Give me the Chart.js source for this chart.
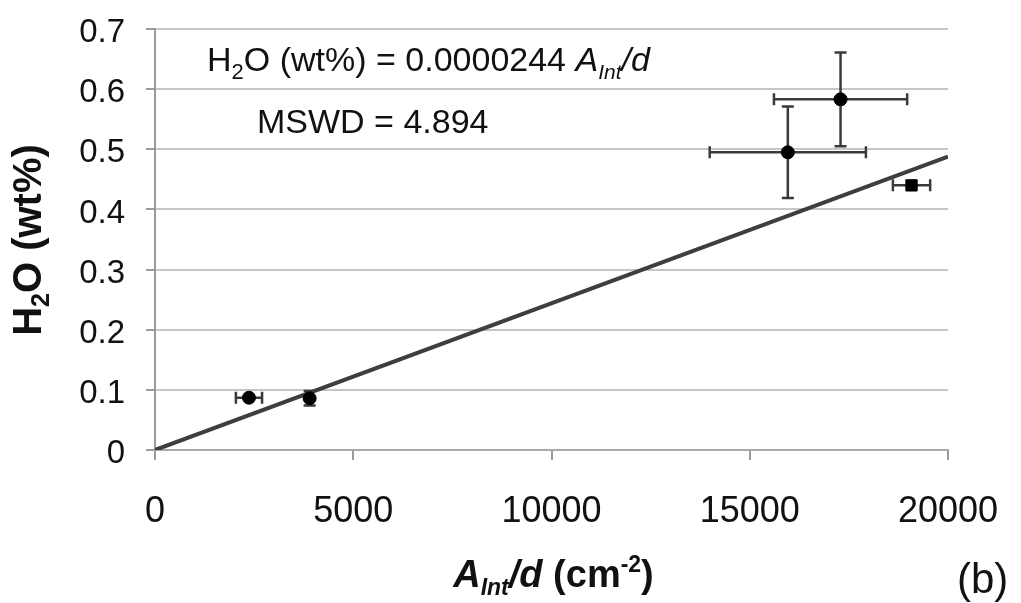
<!DOCTYPE html>
<html>
<head>
<meta charset="utf-8">
<title>H2O vs A_Int/d</title>
<script src="https://cdn.jsdelivr.net/npm/chart.js@4.4.1/dist/chart.umd.min.js"></script>
<style>
  html, body { margin: 0; padding: 0; background: #fff; }
  #wrap { width: 1021px; height: 603px; }
</style>
</head>
<body>
<div id="wrap"><canvas id="chart" width="1021" height="603"></canvas></div>
<script>
// datos
const xVals = [2370, 3900, 15960, 17290, 19080];
const yVals = [0.087, 0.086, 0.495, 0.583, 0.440];
const xErr  = [330, 0, 1970, 1680, 470];
const yErr  = [0, 0.012, 0.076, 0.078, 0];
const markers = ['circle', 'circle', 'circle', 'circle', 'rect'];

// recta de ajuste H2O = 0.0000244 * A/d
const fitX = [0, 20000];
const fitY = [0, 0.488];

const xTickLabels = ['0', '5000', '10000', '15000', '20000'];
const yTickLabels = ['0', '0.1', '0.2', '0.3', '0.4', '0.5', '0.6', '0.7'];

const FONT = '"Liberation Sans", Arial, Helvetica, sans-serif';

// dibuja texto con partes (subindices, cursiva...)
function drawParts(ctx, parts, x, y, align) {
  let total = 0;
  parts.forEach(p => { ctx.font = p.font; total += ctx.measureText(p.t).width; });
  let cx = align === 'center' ? x - total / 2 : x;
  parts.forEach(p => {
    ctx.font = p.font;
    ctx.fillText(p.t, cx, y + (p.dy || 0));
    cx += ctx.measureText(p.t).width;
  });
}

// barras de error
const errorBars = {
  id: 'errorBars',
  beforeDatasetsDraw(chart) {
    const ctx = chart.ctx;
    const xs = chart.scales.x, ys = chart.scales.y;
    const cap = 6;
    ctx.save();
    ctx.strokeStyle = '#3a3a3a';
    ctx.lineWidth = 2.5;
    xVals.forEach((xv, i) => {
      const px = xs.getPixelForValue(xv), py = ys.getPixelForValue(yVals[i]);
      if (xErr[i] > 0) {
        const l = xs.getPixelForValue(xv - xErr[i]), r = xs.getPixelForValue(xv + xErr[i]);
        ctx.beginPath();
        ctx.moveTo(l, py); ctx.lineTo(r, py);
        ctx.moveTo(l, py - cap); ctx.lineTo(l, py + cap);
        ctx.moveTo(r, py - cap); ctx.lineTo(r, py + cap);
        ctx.stroke();
      }
      if (yErr[i] > 0) {
        const t = ys.getPixelForValue(yVals[i] + yErr[i]), b = ys.getPixelForValue(yVals[i] - yErr[i]);
        ctx.beginPath();
        ctx.moveTo(px, t); ctx.lineTo(px, b);
        ctx.moveTo(px - cap, t); ctx.lineTo(px + cap, t);
        ctx.moveTo(px - cap, b); ctx.lineTo(px + cap, b);
        ctx.stroke();
      }
    });
    ctx.restore();
  }
};

// titulos de ejes y anotaciones
const textos = {
  id: 'textos',
  afterDraw(chart) {
    const ctx = chart.ctx;
    const area = chart.chartArea;
    ctx.save();
    ctx.fillStyle = '#111';
    ctx.textBaseline = 'alphabetic';
    ctx.textAlign = 'left';

    // anotacion de la ecuacion
    drawParts(ctx, [
      { t: 'H', font: '34px ' + FONT },
      { t: '2', font: '22px ' + FONT, dy: 8 },
      { t: 'O (wt%) = 0.0000244 ', font: '34px ' + FONT },
      { t: 'A', font: 'italic 34px ' + FONT },
      { t: 'Int', font: 'italic 21px ' + FONT, dy: 8 },
      { t: '/d', font: 'italic 34px ' + FONT }
    ], 207, 71, 'left');
    drawParts(ctx, [{ t: 'MSWD = 4.894', font: '34px ' + FONT }], 257, 133, 'left');

    // titulo eje x
    drawParts(ctx, [
      { t: 'A', font: 'italic bold 38px ' + FONT },
      { t: 'Int', font: 'italic bold 23px ' + FONT, dy: 8 },
      { t: '/d', font: 'italic bold 38px ' + FONT },
      { t: ' (cm', font: 'bold 38px ' + FONT },
      { t: '-2', font: 'bold 23px ' + FONT, dy: -15 },
      { t: ')', font: 'bold 38px ' + FONT }
    ], (area.left + area.right) / 2 + 2, 587, 'center');

    // etiqueta (b)
    drawParts(ctx, [{ t: '(b)', font: '42px ' + FONT }], 957, 593, 'left');

    // titulo eje y (rotado)
    ctx.translate(41, 240);
    ctx.rotate(-Math.PI / 2);
    drawParts(ctx, [
      { t: 'H', font: 'bold 40px ' + FONT },
      { t: '2', font: 'bold 25px ' + FONT, dy: 8 },
      { t: 'O (wt%)', font: 'bold 40px ' + FONT }
    ], 0, 0, 'center');
    ctx.restore();
  }
};

const ctx = document.getElementById('chart').getContext('2d');

const chart = new Chart(ctx, {
  type: 'scatter',
  data: {
    datasets: [
      {
        label: 'ajuste',
        type: 'line',
        data: fitX.map((x, i) => ({ x: x, y: fitY[i] })),
        borderColor: '#3e3e3e',
        borderWidth: 4,
        pointRadius: 0,
        fill: false,
        order: 2
      },
      {
        label: 'muestras',
        data: xVals.map((x, i) => ({ x: x, y: yVals[i] })),
        pointStyle: markers,
        pointRadius: markers.map(m => m === 'rect' ? 8 : 6.5),
        backgroundColor: '#000',
        borderColor: '#000',
        borderWidth: 1,
        order: 1
      }
    ]
  },
  options: {
    responsive: false,
    animation: false,
    layout: { padding: { top: 29, right: 73, left: 0, bottom: 0 } },
    plugins: {
      legend: { display: false },
      tooltip: { enabled: false }
    },
    scales: {
      x: {
        type: 'linear',
        min: 0,
        max: 20000,
        afterFit: s => { s.height = 153; s.paddingLeft = 0; s.paddingRight = 0; },
        border: { color: '#aaa', width: 2 },
        grid: { drawOnChartArea: false, drawTicks: true, tickLength: 10, tickColor: '#9a9a9a', lineWidth: 2 },
        ticks: {
          stepSize: 5000,
          padding: 30,
          color: '#111',
          maxRotation: 0,
          font: { family: FONT, size: 36 },
          callback: (v, i) => xTickLabels[i]
        }
      },
      y: {
        type: 'linear',
        min: 0,
        max: 0.7,
        afterFit: s => { s.width = 155; s.paddingTop = 0; s.paddingBottom = 0; },
        border: { color: '#9a9a9a', width: 2 },
        grid: { color: '#c6c6c6', lineWidth: 2, tickLength: 9, tickColor: '#9a9a9a' },
        ticks: {
          stepSize: 0.1,
          padding: 21,
          labelOffset: 4,
          color: '#111',
          font: { family: FONT, size: 33 },
          callback: (v, i) => yTickLabels[i]
        }
      }
    }
  },
  plugins: [errorBars, textos]
});
</script>
</body>
</html>
